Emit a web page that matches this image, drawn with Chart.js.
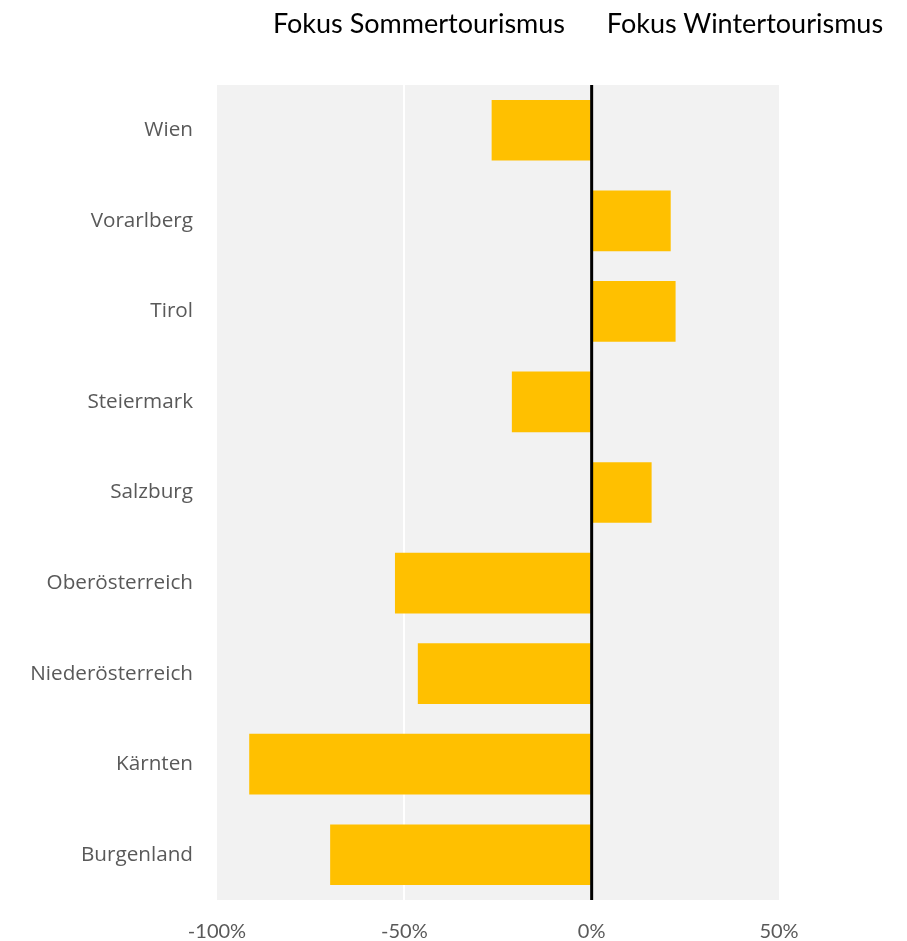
<!DOCTYPE html>
<html>
<head>
<meta charset="utf-8">
<script src="https://cdn.jsdelivr.net/npm/chart.js@4"></script>
<style>
    body { margin: 0; background: #fff; }
    #wrap { position: relative; width: 907px; height: 941px; }
    .head {
        position: absolute; top: 6px; width: 340px; text-align: center;
        font-family: Lato, sans-serif; font-size: 27px; color: #000; white-space: nowrap;
    }
</style>
</head>
<body>
<div id="wrap">
    <div class="head" style="left: 249px;">Fokus Sommertourismus</div>
    <div class="head" style="left: 575px;">Fokus Wintertourismus</div>
    <canvas id="chart" width="907" height="941"></canvas>
</div>
<script>
// Categories (top to bottom)
const regions = ['Wien', 'Vorarlberg', 'Tirol', 'Steiermark', 'Salzburg',
    'Oberösterreich', 'Niederösterreich', 'Kärnten', 'Burgenland'];

// Share difference in percent (negative = summer focus)
const values = [-26.7, 21.1, 22.4, -21.3, 16.0, -52.5, -46.4, -91.4, -69.8];

// x axis ticks
const xTicks = [-100, -50, 0, 50];

// Gray plot background
const plotBackground = {
    id: 'plotBackground',
    beforeDraw(chart) {
        const { ctx, chartArea } = chart;
        ctx.save();
        ctx.fillStyle = '#f2f2f2';
        ctx.fillRect(chartArea.left, chartArea.top, chartArea.right - chartArea.left, chartArea.bottom - chartArea.top);
        ctx.restore();
    }
};

// Black zero line on top of the bars
const zeroLine = {
    id: 'zeroLine',
    afterDatasetsDraw(chart) {
        const { ctx, chartArea } = chart;
        const x = chart.scales.x.getPixelForValue(0);
        ctx.save();
        ctx.strokeStyle = '#000';
        ctx.lineWidth = 3;
        ctx.beginPath();
        ctx.moveTo(x, chartArea.top);
        ctx.lineTo(x, chartArea.bottom);
        ctx.stroke();
        ctx.restore();
    }
};

new Chart(document.getElementById('chart'), {
    type: 'bar',
    data: {
        labels: regions,
        datasets: [{
            data: values,
            backgroundColor: '#ffc000',
            borderWidth: 0,
            barPercentage: 0.67,
            categoryPercentage: 1
        }]
    },
    options: {
        indexAxis: 'y',
        responsive: false,
        animation: false,
        layout: { padding: { top: 85, right: 128, left: 0, bottom: 0 } },
        plugins: {
            legend: { display: false },
            tooltip: { enabled: false }
        },
        scales: {
            x: {
                min: -100,
                max: 50,
                afterBuildTicks(scale) {
                    scale.ticks = xTicks.map(v => ({ value: v }));
                },
                afterFit(scale) { scale.height = 41; },
                border: { display: false },
                grid: {
                    drawTicks: false,
                    color: ctx => ctx.tick && ctx.tick.value === -50 ? '#ffffff' : 'rgba(0,0,0,0)',
                    lineWidth: 2
                },
                ticks: {
                    padding: 20,
                    color: '#595959',
                    font: { family: 'Lato', size: 20 },
                    callback: v => v + '%'
                }
            },
            y: {
                afterFit(scale) { scale.width = 217; },
                border: { display: false },
                grid: { display: false, drawTicks: false },
                ticks: {
                    padding: 24,
                    color: '#595959',
                    font: { family: 'Open Sans', size: 20.7 }
                }
            }
        }
    },
    plugins: [plotBackground, zeroLine]
});
</script>
</body>
</html>
